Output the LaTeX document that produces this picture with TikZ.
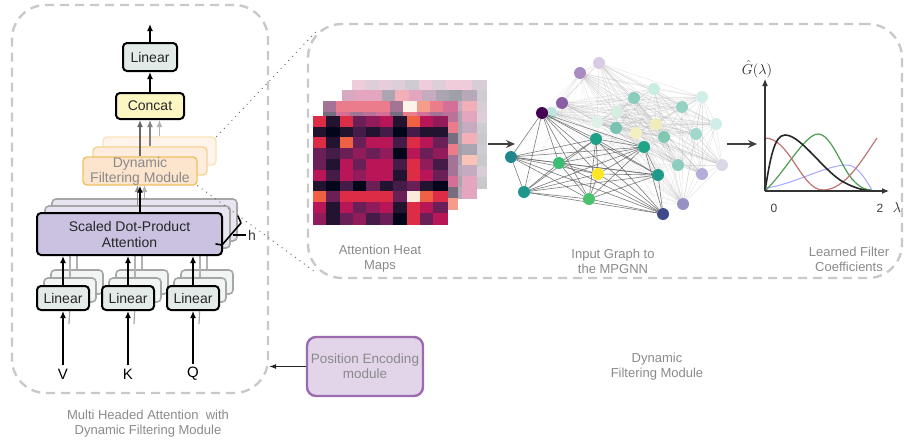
\documentclass[tikz,border=0pt]{standalone}
\usepackage{fontspec}
\setmainfont{Liberation Sans}
\usetikzlibrary{arrows.meta}

% palette
\definecolor{dashgray}{HTML}{C9C9C9}
\definecolor{labelgray}{HTML}{8A8A8A}
\definecolor{linfill}{HTML}{E3EBE8}
\definecolor{catfill}{HTML}{FCF6C2}
\definecolor{attfill}{HTML}{CBC2E2}
\definecolor{dfmfill}{HTML}{FDE4CC}
\definecolor{dfmdraw}{HTML}{EFC062}
\definecolor{pefill}{HTML}{E3D5E9}
\definecolor{pedraw}{HTML}{9B6BAE}
% rocket colour map, 11 steps
\definecolor{rk0}{HTML}{03051A}
\definecolor{rk1}{HTML}{221331}
\definecolor{rk2}{HTML}{451C47}
\definecolor{rk3}{HTML}{6A1F56}
\definecolor{rk4}{HTML}{921C5B}
\definecolor{rk5}{HTML}{B91657}
\definecolor{rk6}{HTML}{DD2C45}
\definecolor{rk7}{HTML}{F06043}
\definecolor{rk8}{HTML}{F59E76}
\definecolor{rk9}{HTML}{F6C9AC}
\definecolor{rk10}{HTML}{FAEBDD}

\pgfdeclarelayer{gbe}
\pgfdeclarelayer{gb}
\pgfdeclarelayer{gfe}
\pgfsetlayers{gbe,gb,gfe,main}

% attention weights of one head (rocket indices)
\def\hm{{6,1,6,3,4,5,1,7,5,4,
         1,0,1,2,1,2,0,2,1,1,
         6,1,7,3,5,5,2,6,5,3,
         3,2,3,4,3,4,0,5,3,4,
         3,1,5,3,5,5,2,6,4,2,
         5,2,5,4,5,5,1,6,5,3,
         1,0,2,0,3,1,2,3,1,0,
         7,3,6,6,6,6,3,10,7,6,
         5,1,5,3,4,5,1,6,5,3,
         4,1,3,4,2,3,0,6,3,5}}

% #1,#2 top-left corner, #3 index shift, #4 colour strength
\newcommand\heatlayer[4]{%
  \foreach \hrow in {0,...,9}{%
    \foreach \hcol in {0,...,9}{%
      \pgfmathtruncatemacro\hv{\hm[mod(\hrow*10+\hcol+#3,100)]}%
      \fill[draw=rk\hv!#4!white, line width=0.3pt, fill=rk\hv!#4!white]
        ({#1+\hcol*13.4},{#2+\hrow*10.8}) rectangle ++(13.4,10.8);
    }%
  }%
}

\tikzset{
  every node/.style={font=\fontsize{14}{15}\selectfont},
  frame/.style={draw=dashgray, line width=2.4pt, dash pattern=on 9pt off 6pt,
    rounded corners=34pt, inner sep=0pt},
  blk/.style={draw=black, line width=2pt, rounded corners=4pt, text=black!85,
    inner sep=0pt, align=center},
  shadowbox/.style={draw=black!35, line width=1.6pt, rounded corners=4pt, inner sep=0pt},
  linbox/.style={blk, fill=linfill, minimum width=52, minimum height=24},
  linshadow/.style={shadowbox, fill=linfill!50!white, minimum width=52, minimum height=24},
  attbox/.style={blk, fill=attfill, minimum width=185, minimum height=42,
    font=\fontsize{14}{16}\selectfont},
  attshadow/.style={shadowbox, fill=attfill!45!white, minimum width=185, minimum height=42},
  dfmbox/.style={draw=dfmdraw, fill=dfmfill, line width=1.4pt, rounded corners=4pt,
    minimum width=114, minimum height=28, inner sep=0pt, align=center, text=labelgray},
  arr/.style={-{Latex[length=7pt,width=6pt]}, line width=1.6pt, black},
  garr/.style={-{Latex[length=7pt,width=6pt]}, line width=1.4pt, #1},
  glabel/.style={text=labelgray, align=center, font=\fontsize{13}{15}\selectfont},
  dots/.style={draw=black!55, line width=1.5pt, line cap=round,
    dash pattern=on 0.01pt off 5.5pt},
  flow/.style={-{Stealth[length=9pt,width=8pt,inset=3pt]}, line width=1.3pt, black!75},
  gnode/.style={circle, minimum size=12, inner sep=0pt},
  bedge/.style={draw=black!45, line width=0.5pt, draw opacity=0.22},
  xedge/.style={draw=black!40, line width=0.5pt, draw opacity=0.12},
  fedge/.style={draw=black!60, line width=0.6pt, draw opacity=0.85},
}

\begin{document}
\begin{tikzpicture}[x=1pt,y=-1pt]
\useasboundingbox (0,0) rectangle (906,442);

% ---------- dashed frames ----------
\node[frame, minimum width=256, minimum height=388] (mha) at (140,199) {};
\node[frame, minimum width=594, minimum height=254] (dfmframe) at (605,151) {};

% ---------- multi-head attention block ----------
% stacked copies behind
\node[linshadow] (lv3) at (77,282) {};
\node[linshadow] (lv2) at (70,290) {};
\node[linshadow] (lk3) at (142,282) {};
\node[linshadow] (lk2) at (135,290) {};
\node[linshadow] (lq3) at (207,282) {};
\node[linshadow] (lq2) at (200,290) {};
\node[attshadow] (att3) at (144.5,220) {};
\node[attshadow] (att2) at (137.5,227) {};
\node[dfmbox, draw=dfmdraw!45, fill=dfmfill!40!white, minimum width=113] (dfm3) at (159.5,151) {};
\node[dfmbox, draw=dfmdraw!70, fill=dfmfill!65!white] (dfm2) at (150,161) {};
\coordinate (attbase) at (129.5,255);
\coordinate (dfmbase) at (140,185);

% inputs
\node (v) at (63,374) {\fontsize{15}{15}\selectfont V};
\node (k) at (128,374) {\fontsize{15}{15}\selectfont K};
\node (q) at (193,374) {\fontsize{15}{15}\selectfont Q};

% faint arrows feeding the copies
\foreach \x in {63,128,193}{
  \draw[line width=1.2pt, black!35] (\x+6,324) -- (\x+7,304);
}
\foreach \a in {lv2, lv3, lk2, lk3, lq2, lq3}{
  \draw[line width=1.4pt, black!30] (\a.north) -- (\a.north |- attbase);
}
\draw[garr=black!45] (att2.north) -- (att2.north |- dfmbase);
\draw[garr=black!30] (att3.north) -- (att3.north |- dfmbase);

% front boxes
\node[linbox] (lv) at (63,298) {Linear};
\node[linbox] (lk) at (128,298) {Linear};
\node[linbox] (lq) at (193,298) {Linear};
\node[attbox] (att) at (129.5,234) {Scaled Dot-Product\\Attention};
\node[dfmbox] (dfm1) at (140,171) {Dynamic\\Filtering Module};
\node[blk, fill=catfill, minimum width=68, minimum height=26] (cat) at (150,106) {Concat};
\node[blk, fill=linfill, minimum width=54, minimum height=28] (lintop) at (150,57) {Linear};
\coordinate (out) at (150,24);

\draw[arr] (v.north) -- (lv.south);
\draw[arr] (k.north) -- (lk.south);
\draw[arr] (q.north) -- (lq.south);
\draw[arr] (lv.north) -- (lv.north |- att.south);
\draw[arr] (lk.north) -- (lk.north |- att.south);
\draw[arr] (lq.north) -- (lq.north |- att.south);
\draw[arr] (att.north -| dfm1.south) -- (dfm1.south);
\draw[garr=black!60] (dfm1.north) -- (dfm1.north |- cat.south);
\draw[garr=black!50] (dfm2.north) -- (dfm2.north |- cat.south);
\draw[garr=black!30] (dfm3.north) -- (dfm3.north |- cat.south);
\draw[arr] (cat.north) -- (lintop.south);
\draw[arr] (lintop.north) -- (out);

% number of heads
\draw[line width=1.6pt, line cap=round, line join=round]
  (238,216) -- (241,223) -- (222,245) -- (216,244);
\draw[line width=1.2pt] (233,235) -- (246,235);
\node[anchor=west, inner sep=0pt, text=black!80] (h) at (248,235) {h};

\node[glabel] (mhacap) at (148,424) {Multi Headed Attention\ \ with\\Dynamic Filtering Module};

% ---------- position encoding ----------
\node[draw=pedraw, fill=pefill, line width=2.4pt, rounded corners=9pt,
  minimum width=116, minimum height=59, inner sep=0pt, align=center,
  text=labelgray, font=\fontsize{13.5}{15}\selectfont] (pe) at (365,366.5)
  {Position Encoding\\module};
\draw[-{Latex[length=7pt,width=5pt]}, line width=0.9pt, black!85]
  (pe.west) -- (pe.west -| mha.east);

\node[glabel] (dfmcap) at (657,367) {Dynamic\\Filtering Module};

% ---------- zoom guides ----------
\coordinate (zt) at ([shift={(10,8)}]dfmframe.north west);
\coordinate (zb) at ([shift={(10,-6)}]dfmframe.south west);
\draw[dots] (dfm3.north east) -- (zt);
\draw[dots] (dfm1.south east) -- (zb);

% ---------- attention heat maps ----------
\heatlayer{352}{80}{37}{22}
\heatlayer{342}{90}{53}{38}
\heatlayer{323}{101}{71}{62}
\heatlayer{313}{116}{0}{100}
\node[glabel] (hmcap) at (380,259) {Attention Heat\\Maps};

\coordinate (hmout) at (488,144);
\coordinate (gin) at (515,144);
\draw[flow] (hmout) -- (gin);

% ---------- input graph ----------
\begin{pgfonlayer}{gb}
\foreach \i/\x/\y/\col in {
  1/580/73/A98BC0, 2/599/63/D8CBE3, 3/562/103/8A5EA2, 4/551/113/BFE3DE,
  5/634/98/8ACDBD, 6/654/89/C9ECE3, 7/682/107/95D2C4, 8/702/97/D2EEE8,
  9/616/128/7AC2B1, 10/636/133/F4EFBE, 11/656/124/F1EDBA, 12/617/112/D8EDE0,
  13/597/122/DFF1E6, 14/664/137/80C8B4, 15/696/134/A0D9CC, 16/716/124/D0EDE7,
  17/678/165/8CCDBD, 18/702/174/B4ADD7, 19/722/165/DBD7E8, 20/683/204/9891C4}{
  \definecolor{bn\i}{HTML}{\col}
  \node[gnode, fill=bn\i] (b\i) at (\x,\y) {};
}
\end{pgfonlayer}
\foreach \i/\x/\y/\col in {
  1/542/113/440154, 2/511/157/23868E, 3/524/192/1F968B, 4/559/163/3DBC74,
  5/596/139/1FA088, 6/598/174/FDE725, 7/589/199/4AC16D, 8/644/147/20A386,
  9/658/175/1F9A8A, 10/663/214/3E4A89}{
  \definecolor{fn\i}{HTML}{\col}
  \node[gnode, fill=fn\i] (f\i) at (\x,\y) {};
}
\begin{pgfonlayer}{gbe}
\foreach \a in {1,...,19}{
  \pgfmathtruncatemacro\s{\a+1}
  \foreach \b in {\s,...,20}{ \draw[bedge] (b\a) -- (b\b); }
}
\foreach \a in {1,...,10}{
  \foreach \b in {1,3,5,9,14,17,20}{ \draw[xedge] (f\a) -- (b\b); }
}
\end{pgfonlayer}
\begin{pgfonlayer}{gfe}
\foreach \a in {1,...,9}{
  \pgfmathtruncatemacro\s{\a+1}
  \foreach \b in {\s,...,10}{ \draw[fedge] (f\a) -- (f\b); }
}
\end{pgfonlayer}
\node[glabel] (gcap) at (613,261) {Input Graph to\\the MPGNN};

\coordinate (gout) at (727,144);
\coordinate (pin) at (757,144);
\draw[flow] (gout) -- (pin);

% ---------- learned filter responses ----------
\coordinate (o) at (765,191);
\coordinate (ytop) at (765,79);
\coordinate (xend) at (889,191);
\draw[line width=1pt, blue!35!white] (765,188) .. controls (790,186) and (828,164) .. (848,165)
  .. controls (858,166) and (866,180) .. (872,190);
\draw[line width=1.2pt, green!45!black!70!white] (765,191) .. controls (785,172) and (805,134) .. (818,134)
  .. controls (831,134) and (841,166) .. (852,179) .. controls (860,188) and (866,190) .. (871,190);
\draw[line width=1.2pt, red!55!black!55!white] (765,138) .. controls (790,138) and (801,190) .. (823,190)
  .. controls (845,190) and (862,160) .. (877,138);
\draw[line width=1.6pt, black!85] (765,191) .. controls (770,160) and (774,135) .. (785,135)
  .. controls (800,135) and (820,166) .. (840,180) .. controls (855,189) and (866,191) .. (876,191);
\draw[-{Latex[length=7pt,width=6pt]}, line width=1.2pt, black!80] (o) -- (ytop);
\draw[-{Latex[length=7pt,width=6pt]}, line width=1.2pt, black!80] (o) -- (xend);
\node[text=black!85, inner sep=0pt] (glab) at (757,69) {$\hat{G}(\lambda)$};
\node[text=black!75, font=\fontsize{12}{12}\selectfont] (t0) at (774,208) {0};
\node[text=black!75, font=\fontsize{12}{12}\selectfont] (t2) at (880,208) {2};
\node[text=black!85] (lam) at (897,207) {$\lambda$};
\node[glabel] (fcap) at (849,259) {Learned Filter\\Coefficients};

\end{tikzpicture}
\end{document}
